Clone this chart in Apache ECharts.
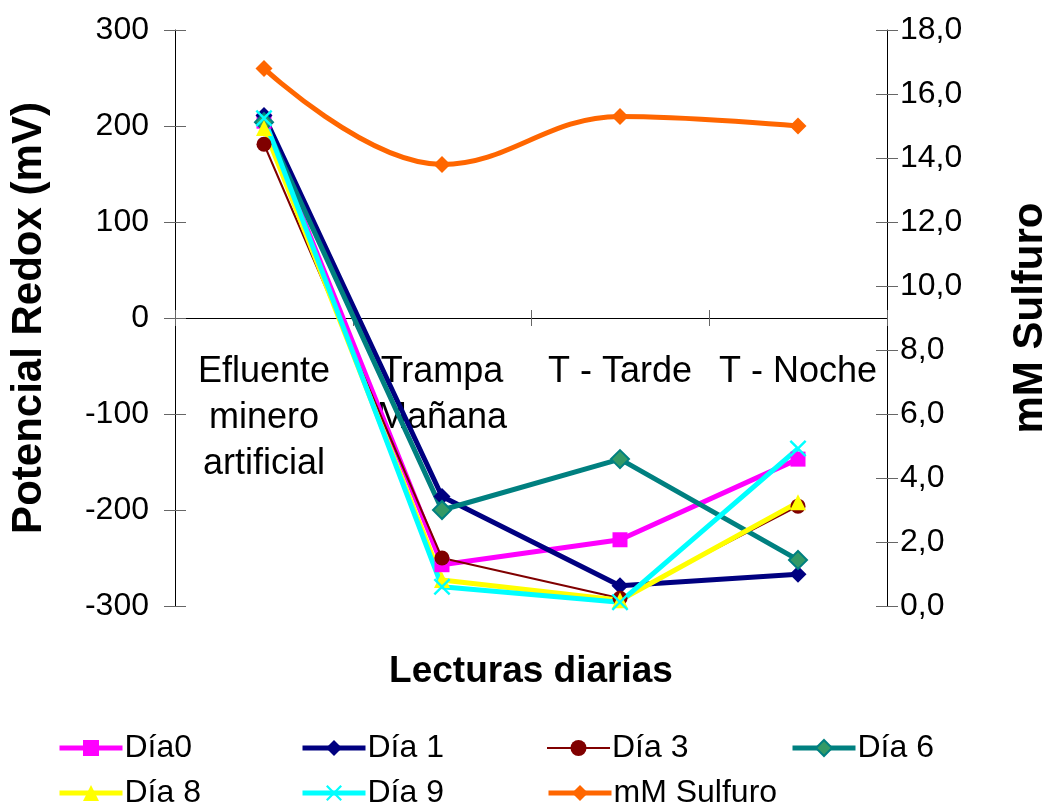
<!DOCTYPE html>
<html>
<head>
<meta charset="utf-8">
<script src="https://cdn.jsdelivr.net/npm/echarts@6/dist/echarts.min.js"></script>
<style>
  html, body { margin: 0; padding: 0; background: #fff; }
  #chart { width: 1047px; height: 810px; }
</style>
</head>
<body>
<div id="chart"></div>
<script>
// Daily readings: redox potential (mV) per day, plus sulfide concentration (mM)
const categories = ['Efluente\nminero\nartificial', 'Trampa\nMañana', 'T - Tarde', 'T - Noche'];

const dia0 = [205, -257, -231, -147];
const dia1 = [211, -186, -279, -267];
const dia3 = [181, -250, -292, -196];
const dia6 = [204, -200, -147, -252];
const dia8 = [198, -273, -294, -192];
const dia9 = [208, -280, -296, -136];
const sulfuro = [16.8, 13.8, 15.3, 15.0];

const redoxTicks = { min: -300, max: 300, interval: 100 };
const sulfuroTicks = { min: 0, max: 18, interval: 2 };

const FONT = "'Liberation Sans', Arial, sans-serif";
const crossSymbol = 'path://M0,1 L1,0 L5,4 L9,0 L10,1 L6,5 L10,9 L9,10 L5,6 L1,10 L0,9 L4,5 Z';

function lineSeries(name, data, color, symbol, size, width, extra) {
  return Object.assign({
    name: name,
    type: 'line',
    data: data,
    xAxisIndex: 0,
    yAxisIndex: 0,
    symbol: symbol,
    symbolSize: size,
    showSymbol: true,
    lineStyle: { color: color, width: width },
    itemStyle: { color: color },
    emphasis: { disabled: true },
    animation: false
  }, extra || {});
}

const series = [
  lineSeries('Día0', dia0, '#FF00FF', 'rect', 15, 5),
  lineSeries('Día 1', dia1, '#000080', 'diamond', 17, 5),
  lineSeries('Día 3', dia3, '#800000', 'circle', 15, 2),
  lineSeries('Día 6', dia6, '#008080', 'diamond', 18, 5, {
    itemStyle: { color: '#339966', borderColor: '#008080', borderWidth: 2 }
  }),
  lineSeries('Día 8', dia8, '#FFFF00', 'triangle', 16, 5),
  lineSeries('Día 9', dia9, '#00FFFF', crossSymbol, 17, 5),
  lineSeries('mM Sulfuro', sulfuro, '#FF6600', 'diamond', 17, 5, {
    yAxisIndex: 1,
    smooth: 0.4
  })
];

// legend laid out as a fixed grid of columns
const legendCols = [57, 300, 546, 790];
const legendRows = [732, 777];
const legendNames = ['Día0', 'Día 1', 'Día 3', 'Día 6', 'Día 8', 'Día 9', 'mM Sulfuro'];
const legends = legendNames.map(function (n, i) {
  return {
    data: [n],
    left: legendCols[i % 4],
    top: legendRows[Math.floor(i / 4)],
    itemWidth: 63,
    itemHeight: 20,
    itemGap: 0,
    padding: 0,
    selectedMode: false,
    lineStyle: { width: 'inherit' },
    textStyle: { fontFamily: FONT, fontSize: 32, color: '#000', padding: [0, 0, 0, -3] }
  };
});

const tickLine = { color: '#666', width: 1 };

const option = {
  backgroundColor: '#fff',
  animation: false,
  legend: legends,
  grid: { left: 175, right: 160, top: 30, bottom: 204, containLabel: false, outerBoundsMode: 'none' },
  xAxis: [
    {
      type: 'category',
      data: categories,
      position: 'bottom',
      boundaryGap: true,
      axisLine: { onZero: true, onZeroAxisIndex: 0, lineStyle: { color: '#000', width: 1 } },
      axisTick: { show: true, inside: false, length: 8, alignWithLabel: false, lineStyle: tickLine },
      // labels hang just below the zero line
      axisLabel: {
        interval: 0,
        margin: -257,
        fontFamily: FONT,
        fontSize: 36,
        lineHeight: 46,
        color: '#000',
        verticalAlign: 'top'
      },
      splitLine: { show: false },
      name: 'Lecturas diarias',
      nameLocation: 'middle',
      nameGap: 47,
      nameTextStyle: { fontFamily: FONT, fontSize: 37, fontWeight: 'bold', color: '#000' }
    },
    {
      type: 'category',
      data: categories,
      position: 'bottom',
      boundaryGap: true,
      axisLine: { show: false, onZero: true, onZeroAxisIndex: 0 },
      axisTick: { show: true, inside: true, length: 8, alignWithLabel: false, lineStyle: tickLine },
      axisLabel: { show: false },
      splitLine: { show: false }
    }
  ],
  yAxis: [
    {
      type: 'value',
      position: 'left',
      min: redoxTicks.min, max: redoxTicks.max, interval: redoxTicks.interval,
      axisLine: { show: true, lineStyle: { color: '#000', width: 1 } },
      axisTick: { show: true, inside: false, length: 11, lineStyle: tickLine },
      axisLabel: { margin: 26, fontFamily: FONT, fontSize: 32, color: '#000' },
      splitLine: { show: false },
      name: 'Potencial Redox (mV)',
      nameLocation: 'middle',
      nameGap: 125,
      nameTextStyle: { fontFamily: FONT, fontSize: 42, fontWeight: 'bold', color: '#000' }
    },
    {
      type: 'value',
      position: 'right',
      min: sulfuroTicks.min, max: sulfuroTicks.max, interval: sulfuroTicks.interval,
      axisLine: { show: true, lineStyle: { color: '#000', width: 1 } },
      axisTick: { show: true, inside: false, length: 11, lineStyle: tickLine },
      axisLabel: {
        margin: 13, fontFamily: FONT, fontSize: 32, color: '#000',
        formatter: function (v) { return v.toFixed(1).replace('.', ','); }
      },
      splitLine: { show: false },
      name: 'mM Sulfuro',
      nameLocation: 'middle',
      nameGap: 122,
      nameRotate: 90,
      nameTextStyle: { fontFamily: FONT, fontSize: 42, fontWeight: 'bold', color: '#000' }
    },
    {
      type: 'value',
      position: 'left',
      min: redoxTicks.min, max: redoxTicks.max, interval: redoxTicks.interval,
      axisLine: { show: false },
      axisTick: { show: true, inside: true, length: 11, lineStyle: tickLine },
      axisLabel: { show: false },
      splitLine: { show: false }
    },
    {
      type: 'value',
      position: 'right',
      min: sulfuroTicks.min, max: sulfuroTicks.max, interval: sulfuroTicks.interval,
      axisLine: { show: false },
      axisTick: { show: true, inside: true, length: 11, lineStyle: tickLine },
      axisLabel: { show: false },
      splitLine: { show: false }
    }
  ],
  series: series
};

const chart = echarts.init(document.getElementById('chart'), null, { renderer: 'canvas' });
chart.setOption(option);
</script>
</body>
</html>
